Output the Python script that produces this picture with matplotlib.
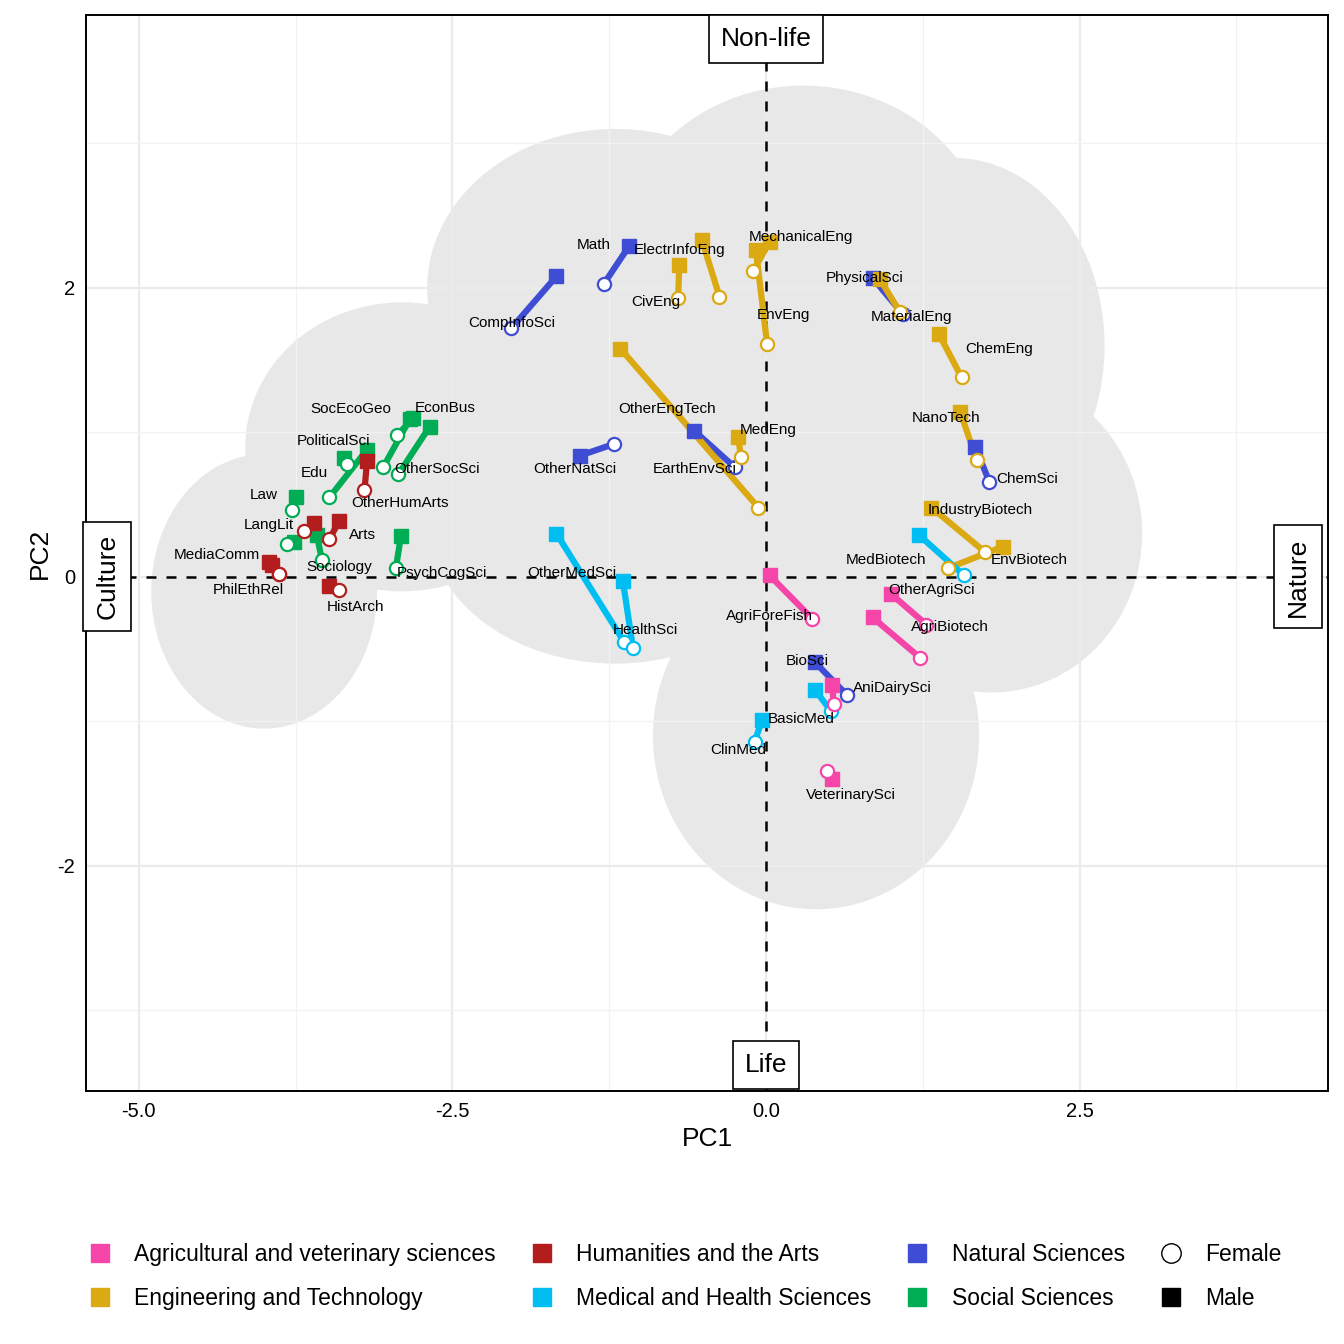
import numpy as np
import matplotlib.pyplot as plt
from matplotlib.patches import Ellipse
from matplotlib.lines import Line2D

plt.rcParams['font.family'] = ['Liberation Sans', 'DejaVu Sans']
plt.rcParams['axes.unicode_minus'] = False

# field, group, male (x, y), female (x, y)
fields = ['EconBus', 'SocEcoGeo', 'OtherSocSci', 'PoliticalSci', 'Edu', 'Law', 'Sociology', 'SocWork', 'PsychCogSci',
          'OtherHumArts', 'LangLit', 'Arts', 'MediaComm', 'PhilEthRel', 'HistArch',
          'Math', 'CompInfoSci', 'OtherNatSci', 'EarthEnvSci', 'PhysicalSci', 'ChemSci', 'BioSci',
          'ElectrInfoEng', 'CivEng', 'MechanicalEng', 'EnvEng', 'MaterialEng', 'ChemEng', 'OtherEngTech',
          'MedEng', 'NanoTech', 'IndustryBiotech', 'EnvBiotech',
          'OtherMedSci', 'HealthSci', 'MedBiotech', 'BasicMed', 'ClinMed',
          'AgriForeFish', 'OtherAgriSci', 'AgriBiotech', 'AniDairySci', 'VeterinarySci']
groups = ['Soc'] * 9 + ['Hum'] * 6 + ['Nat'] * 7 + ['Eng'] * 11 + ['Med'] * 5 + ['Agri'] * 5
male_x = [-2.81, -2.84, -2.68, -3.18, -3.36, -3.75, -3.58, -3.76, -2.91,
          -3.18, -3.60, -3.40, -3.96, -3.94, -3.48,
          -1.09, -1.67, -1.48, -0.57, 0.85, 1.67, 0.39,
          -0.51, -0.69, 0.03, -0.08, 0.91, 1.38, -1.16, -0.22, 1.55, 1.32, 1.89,
          -1.67, -1.14, 1.22, 0.39, -0.03,
          0.03, 1.00, 0.85, 0.53, 0.53]
male_y = [1.10, 1.09, 1.04, 0.88, 0.82, 0.55, 0.29, 0.24, 0.28,
          0.80, 0.37, 0.39, 0.10, 0.08, -0.06,
          2.29, 2.08, 0.84, 1.01, 2.07, 0.90, -0.59,
          2.33, 2.16, 2.32, 2.26, 2.06, 1.68, 1.58, 0.97, 1.14, 0.48, 0.21,
          0.30, -0.03, 0.29, -0.78, -0.99,
          0.01, -0.12, -0.28, -0.75, -1.40]
female_x = [-2.94, -3.05, -2.93, -3.48, -3.34, -3.78, -3.54, -3.82, -2.95,
            -3.20, -3.68, -3.48, -3.88, -3.88, -3.40,
            -1.29, -2.03, -1.21, -0.25, 1.09, 1.78, 0.65,
            -0.37, -0.70, -0.10, 0.01, 1.07, 1.56, -0.06, -0.20, 1.68, 1.75, 1.45,
            -1.13, -1.06, 1.58, 0.52, -0.09,
            0.37, 1.28, 1.23, 0.54, 0.49]
female_y = [0.98, 0.76, 0.71, 0.55, 0.78, 0.46, 0.12, 0.23, 0.06,
            0.60, 0.32, 0.26, 0.02, 0.02, -0.09,
            2.03, 1.72, 0.92, 0.76, 1.82, 0.66, -0.82,
            1.94, 1.93, 2.12, 1.61, 1.83, 1.38, 0.48, 0.83, 0.81, 0.17, 0.06,
            -0.45, -0.49, 0.01, -0.93, -1.14,
            -0.29, -0.33, -0.56, -0.88, -1.34]

# label anchors (layout)
label_pos = {
    'EconBus': (-2.56, 1.17), 'SocEcoGeo': (-3.31, 1.16), 'OtherSocSci': (-2.62, 0.75),
    'PoliticalSci': (-3.45, 0.94), 'Edu': (-3.60, 0.72), 'Law': (-4.00, 0.57),
    'Sociology': (-3.40, 0.07), 'PsychCogSci': (-2.58, 0.03), 'OtherHumArts': (-2.92, 0.51),
    'LangLit': (-3.96, 0.36), 'Arts': (-3.22, 0.29), 'MediaComm': (-4.38, 0.15),
    'PhilEthRel': (-4.13, -0.09), 'HistArch': (-3.27, -0.21), 'Math': (-1.37, 2.30),
    'CompInfoSci': (-2.03, 1.76), 'OtherNatSci': (-1.52, 0.75), 'EarthEnvSci': (-0.57, 0.75),
    'PhysicalSci': (0.79, 2.07), 'ChemSci': (2.08, 0.68), 'BioSci': (0.33, -0.58),
    'ElectrInfoEng': (-0.69, 2.26), 'CivEng': (-0.88, 1.90), 'MechanicalEng': (0.28, 2.35),
    'EnvEng': (0.14, 1.81), 'MaterialEng': (1.16, 1.80), 'ChemEng': (1.86, 1.58),
    'OtherEngTech': (-0.79, 1.16), 'MedEng': (0.02, 1.02), 'NanoTech': (1.44, 1.10),
    'IndustryBiotech': (1.71, 0.46), 'EnvBiotech': (2.10, 0.12), 'OtherMedSci': (-1.55, 0.03),
    'HealthSci': (-0.96, -0.37), 'MedBiotech': (0.96, 0.12), 'BasicMed': (0.28, -0.98),
    'ClinMed': (-0.22, -1.20), 'AgriForeFish': (0.03, -0.27), 'OtherAgriSci': (1.32, -0.09),
    'AgriBiotech': (1.47, -0.35), 'AniDairySci': (1.01, -0.77), 'VeterinarySci': (0.68, -1.51),
}

group_names = {'Agri': 'Agricultural and veterinary sciences', 'Eng': 'Engineering and Technology',
               'Hum': 'Humanities and the Arts', 'Med': 'Medical and Health Sciences',
               'Nat': 'Natural Sciences', 'Soc': 'Social Sciences'}
colors = {'Agri': '#F545A8', 'Eng': '#DBA912', 'Hum': '#B41D1D', 'Med': '#00BEF2',
          'Nat': '#3E4DD4', 'Soc': '#00AD55'}

# rough outline of the background point cloud: centre x, centre y, width, height
cloud_x = [-4.0, -2.9, -1.2, 0.3, 1.5, 1.8, 0.4, -1.2, 0.6]
cloud_y = [-0.1, 0.9, 2.0, 2.2, 1.6, 0.3, -1.1, 0.4, 0.6]
cloud_w = [1.8, 2.5, 3.0, 3.0, 2.4, 2.4, 2.6, 3.0, 2.6]
cloud_h = [1.9, 2.0, 2.2, 2.4, 2.6, 2.2, 2.4, 2.0, 2.2]

fig = plt.figure(figsize=(13.44, 13.44), dpi=100)
ax = fig.add_axes([0.064, 0.188, 0.924, 0.801])

for cx, cy, w, h in zip(cloud_x, cloud_y, cloud_w, cloud_h):
    ax.add_patch(Ellipse((cx, cy), w, h, facecolor='#e8e8e8', edgecolor='none', zorder=0.5))

ax.set_xlim(-5.42, 4.48)
ax.set_ylim(-3.56, 3.89)
ax.set_xticks([-5, -2.5, 0, 2.5])
ax.set_xticklabels(['-5.0', '-2.5', '0.0', '2.5'])
ax.set_yticks([-2, 0, 2])
ax.set_xticks(np.arange(-5, 4.5, 1.25), minor=True)
ax.set_yticks(np.arange(-3, 4, 1), minor=True)
ax.grid(which='major', color='#ebebeb', linewidth=1.6, zorder=0)
ax.grid(which='minor', color='#f2f2f2', linewidth=0.9, zorder=0)
ax.set_axisbelow(True)
ax.tick_params(which='both', length=0, labelsize=14.5, pad=8)
for s in ax.spines.values():
    s.set_linewidth(1.4)

ax.axhline(0, color='black', linestyle=(0, (4, 4)), linewidth=1.8, zorder=1)
ax.axvline(0, color='black', linestyle=(0, (4, 4)), linewidth=1.8, zorder=1)

for i, f in enumerate(fields):
    c = colors[groups[i]]
    ax.plot([male_x[i], female_x[i]], [male_y[i], female_y[i]], color=c, linewidth=4.5, zorder=2,
            solid_capstyle='butt')
    ax.plot(male_x[i], male_y[i], 's', color=c, markersize=9.5, zorder=3)
    ax.plot(female_x[i], female_y[i], 'o', markerfacecolor='white', markeredgecolor=c,
            markeredgewidth=1.6, markersize=9.5, zorder=4)
    if f in label_pos:
        ax.text(label_pos[f][0], label_pos[f][1], f, fontsize=11, ha='center', va='center', zorder=5)

box = dict(boxstyle='square,pad=0.45', facecolor='white', edgecolor='black', linewidth=1.2)
ax.text(0, 3.72, 'Non-life', fontsize=19, ha='center', va='center', bbox=box, zorder=6)
ax.text(0, -3.38, 'Life', fontsize=19, ha='center', va='center', bbox=box, zorder=6)
ax.text(-5.25, 0, 'Culture', fontsize=19, ha='center', va='center', rotation=90, bbox=box, zorder=6)
ax.text(4.24, 0, 'Nature', fontsize=19, ha='center', va='center', rotation=90, bbox=box, zorder=6)

ax.set_xlabel('PC1', fontsize=19)
ax.set_ylabel('PC2', fontsize=19)

handles = []
for g in ['Agri', 'Eng', 'Hum', 'Med', 'Nat', 'Soc']:
    handles.append(Line2D([], [], marker='s', linestyle='none', color=colors[g], markersize=13,
                          label=group_names[g]))
handles.append(Line2D([], [], marker='o', linestyle='none', markerfacecolor='white',
                      markeredgecolor='black', markersize=14, label='Female'))
handles.append(Line2D([], [], marker='s', linestyle='none', color='black', markersize=13, label='Male'))
fig.legend(handles=handles, loc='lower left', bbox_to_anchor=(0.042, 0.01), ncol=4, frameon=False,
           fontsize=16.5, handletextpad=0.5, columnspacing=1.0, labelspacing=0.9)

fig.savefig('out.png', dpi=100)
